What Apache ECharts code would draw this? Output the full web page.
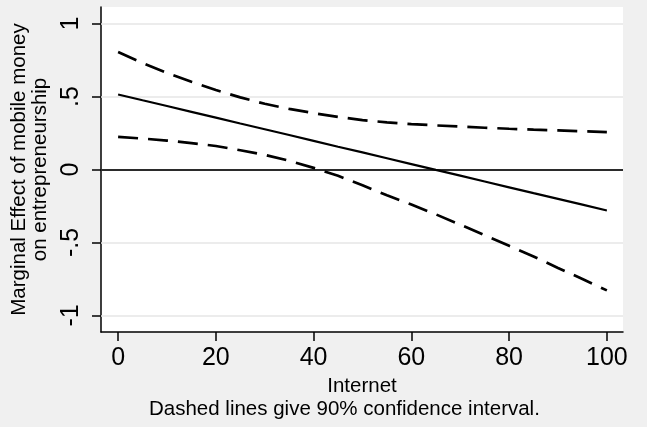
<!DOCTYPE html>
<html>
<head>
<meta charset="utf-8">
<script src="https://cdn.jsdelivr.net/npm/echarts@6/dist/echarts.min.js"></script>
<style>
html,body{margin:0;padding:0;background:#f0f0f0;}
#chart{width:647px;height:427px;}
</style>
</head>
<body>
<div id="chart"></div>
<script>
// Data
const internet = [0, 5, 10, 15, 20, 25, 30, 35, 40, 45, 50, 55, 60, 65, 70, 75, 80, 85, 90, 95, 100];
const marginalEffect = [0.514, 0.474, 0.435, 0.395, 0.355, 0.315, 0.276, 0.236, 0.196, 0.156, 0.117, 0.077, 0.037, -0.003, -0.042, -0.082, -0.122, -0.162, -0.201, -0.241, -0.281];
const ciUpper = [0.805, 0.730, 0.662, 0.601, 0.544, 0.494, 0.450, 0.415, 0.386, 0.360, 0.338, 0.323, 0.311, 0.302, 0.294, 0.286, 0.279, 0.273, 0.268, 0.262, 0.256];
const ciLower = [0.224, 0.212, 0.198, 0.181, 0.161, 0.132, 0.100, 0.060, 0.011, -0.043, -0.108, -0.177, -0.240, -0.307, -0.378, -0.450, -0.523, -0.596, -0.674, -0.750, -0.828];
const xTickValues = [0, 20, 40, 60, 80, 100];
const xTickLabels = ['0', '20', '40', '60', '80', '100'];
const yTickValues = [-1, -0.5, 0, 0.5, 1];
const yTickLabels = ['-1', '-.5', '0', '.5', '1'];
const yGridValues = [-1, -0.5, 0.5, 1];
const zeroLine = 0;

const FONT = 'Liberation Sans, Arial, sans-serif';
const pairs = arr => internet.map((x, i) => [x, arr[i]]);

const chart = echarts.init(document.getElementById('chart'), null, {renderer: 'canvas'});
chart.setOption({
  animation: false,
  backgroundColor: '#f0f0f0',
  title: {
    text: 'Dashed lines give 90% confidence interval.',
    left: 149,
    top: 399,
    padding: 0,
    textStyle: {fontFamily: FONT, fontSize: 20.5, fontWeight: 'normal', color: '#000', lineHeight: 21}
  },
  grid: {
    left: 101, right: 24, top: 7, bottom: 95,
    show: true, backgroundColor: '#ffffff', borderWidth: 0
  },
  xAxis: {
    type: 'value',
    min: -3.5, max: 103.3,
    name: 'Internet',
    nameLocation: 'middle',
    nameGap: 41.5,
    nameTextStyle: {fontFamily: FONT, fontSize: 20.5, color: '#000', lineHeight: 21},
    axisLine: {show: true, onZero: false, lineStyle: {color: '#000', width: 1.5}},
    axisTick: {show: true, length: 9, customValues: xTickValues, lineStyle: {color: '#000', width: 1.5}},
    axisLabel: {
      customValues: xTickValues,
      margin: 13.5,
      fontFamily: FONT, fontSize: 25, color: '#000', lineHeight: 25,
      formatter: v => xTickLabels[xTickValues.indexOf(v)] ?? ''
    },
    splitLine: {show: false}
  },
  yAxis: {
    type: 'value',
    min: -1.113, max: 1.113,
    name: 'Marginal Effect of mobile money\non entrepreneurship',
    nameLocation: 'middle',
    nameRotate: 90,
    nameGap: 47,
    nameTextStyle: {fontFamily: FONT, fontSize: 20.5, color: '#000', lineHeight: 21, align: 'center'},
    axisLine: {show: true, onZero: false, lineStyle: {color: '#000', width: 1.5}},
    axisTick: {show: true, length: 9, customValues: yTickValues, lineStyle: {color: '#000', width: 1.5}},
    axisLabel: {
      customValues: yTickValues,
      rotate: 90,
      margin: 17,
      fontFamily: FONT, fontSize: 25, color: '#000', lineHeight: 25,
      formatter: v => {
        const i = yTickValues.findIndex(t => Math.abs(t - v) < 1e-9);
        return i >= 0 ? yTickLabels[i] : '';
      }
    },
    splitLine: {show: false}
  },
  series: [
    {
      name: 'Marginal effect',
      type: 'line',
      data: pairs(marginalEffect),
      showSymbol: false,
      symbol: 'none',
      lineStyle: {color: '#000', width: 2.2, type: 'solid'},
      z: 3,
      markLine: {
        silent: true,
        symbol: 'none',
        z: 1,
        label: {show: false},
        data: yGridValues.map(v => ({yAxis: v, lineStyle: {color: '#e6e6e6', width: 1.5, type: 'solid'}}))
          .concat([{yAxis: zeroLine, lineStyle: {color: '#2b2b2b', width: 2, type: 'solid'}}])
      }
    },
    {
      name: 'Upper CI',
      type: 'line',
      data: pairs(ciUpper),
      showSymbol: false,
      symbol: 'none',
      lineStyle: {color: '#000', width: 2.7, type: [20, 10]},
      z: 3
    },
    {
      name: 'Lower CI',
      type: 'line',
      data: pairs(ciLower),
      showSymbol: false,
      symbol: 'none',
      lineStyle: {color: '#000', width: 2.7, type: [20, 10]},
      z: 3
    }
  ]
});
</script>
</body>
</html>
